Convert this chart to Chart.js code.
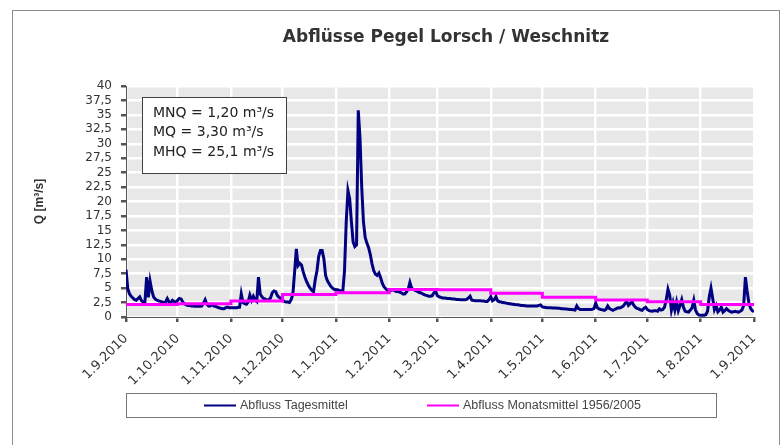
<!DOCTYPE html>
<html>
<head>
<meta charset="utf-8">
<script src="https://cdn.jsdelivr.net/npm/chart.js@4.4.1/dist/chart.umd.min.js"></script>
<style>
  html, body { margin: 0; padding: 0; background: #fff; }
  #wrap { width: 781px; height: 445px; }
</style>
</head>
<body>
<div id="wrap"><canvas id="chart" width="781" height="445"></canvas></div>
<script>
// --- Daten ---
const chartTitle = 'Abflüsse Pegel Lorsch / Weschnitz';
const axisTitle = 'Q [m³/s]';
const seriesNames = ['Abfluss Tagesmittel', 'Abfluss Monatsmittel 1956/2005'];
const keyValues = ['MNQ = 1,20 m³/s', 'MQ = 3,30 m³/s', 'MHQ = 25,1 m³/s'];

// Monatsanfänge (Achsenbeschriftung)
const monthLabels = ['1.9.2010', '1.10.2010', '1.11.2010', '1.12.2010', '1.1.2011', '1.2.2011',
  '1.3.2011', '1.4.2011', '1.5.2011', '1.6.2011', '1.7.2011', '1.8.2011', '1.9.2011'];

// Monatsmittel 1956/2005, Sep .. Aug
const monthlyMean = [2.15, 2.3, 2.75, 3.9, 4.2, 4.75, 4.7, 4.1, 3.4, 2.95, 2.65, 2.15];

// Tagesmittel 1.9.2010 .. 1.9.2011
const dailyQ = [
  // Sep
  8.2, 5.0, 4.0, 3.6, 3.3, 3.0, 2.9, 3.2, 3.5, 2.8,
  2.6, 2.6, 6.9, 3.4, 6.2, 4.6, 3.5, 3.1, 2.9, 2.8,
  2.7, 2.6, 2.5, 2.6, 3.2, 2.6, 2.5, 2.9, 2.7, 2.5,
  // Okt
  2.9, 3.2, 3.1, 2.6, 2.3, 2.1, 2.0, 2.0, 1.9, 1.9,
  1.85, 1.85, 1.85, 1.85, 1.9, 2.4, 3.0, 2.2, 1.9, 1.9,
  2.2, 1.9, 1.85, 1.7, 1.6, 1.5, 1.45, 1.45, 1.6, 1.7,
  1.6,
  // Nov
  1.6, 1.6, 1.6, 1.6, 1.65, 1.7, 4.0, 2.5, 2.3, 2.2,
  2.6, 3.8, 2.9, 3.6, 3.0, 2.7, 6.9, 4.0, 3.5, 3.2,
  3.1, 2.9, 3.0, 3.3, 4.2, 4.5, 4.4, 3.7, 3.4, 3.2,
  // Dez
  2.9, 2.7, 2.6, 2.6, 2.5, 3.0, 4.0, 7.8, 11.8, 8.9,
  9.3, 9.0, 7.8, 6.9, 6.1, 5.5, 5.0, 4.6, 4.4, 6.5,
  8.0, 10.5, 11.5, 11.5, 10.1, 7.2, 6.3, 5.8, 5.3, 5.0,
  4.8,
  // Jan
  4.7, 4.7, 4.6, 4.5, 4.4, 8.0, 16.5, 21.9, 20.5, 16.5,
  13.0, 12.2, 12.5, 35.8, 31.0, 22.5, 16.5, 13.8, 12.8, 12.0,
  10.8, 9.2, 8.0, 7.4, 7.2, 7.6, 6.8, 5.8, 5.2, 4.9,
  4.6,
  // Feb
  4.5, 4.6, 4.7, 4.6, 4.4, 4.4, 4.3, 4.2, 4.0, 4.0,
  4.3, 4.8, 6.0, 5.0, 4.8, 4.6, 4.5, 4.3, 4.2, 4.1,
  3.9, 3.8, 3.7, 3.6, 3.6, 3.7, 4.2, 4.4,
  // Mär
  3.7, 3.5, 3.4, 3.3, 3.3, 3.25, 3.2, 3.2, 3.15, 3.1,
  3.1, 3.05, 3.05, 3.0, 3.0, 3.0, 3.0, 3.05, 3.3, 3.6,
  2.9, 2.85, 2.8, 2.8, 2.8, 2.8, 2.75, 2.75, 2.7, 2.7,
  3.0,
  // Apr
  3.5, 2.8, 3.0, 3.5, 2.8, 2.65, 2.6, 2.5, 2.45, 2.4,
  2.35, 2.3, 2.25, 2.2, 2.15, 2.1, 2.1, 2.05, 2.0, 2.0,
  1.95, 1.9, 1.9, 1.9, 1.9, 1.9, 1.9, 1.9, 2.0, 2.1,
  // Mai
  1.75, 1.7, 1.65, 1.6, 1.6, 1.6, 1.55, 1.55, 1.55, 1.5,
  1.5, 1.45, 1.45, 1.4, 1.4, 1.35, 1.3, 1.3, 1.25, 1.2,
  1.9, 1.45, 1.3, 1.3, 1.3, 1.3, 1.3, 1.3, 1.3, 1.35,
  1.45,
  // Jun
  2.4, 1.6, 1.4, 1.3, 1.25, 1.15, 1.3, 1.9, 1.45, 1.3,
  1.15, 1.3, 1.45, 1.6, 1.55, 1.7, 1.9, 2.3, 2.7, 2.0,
  2.3, 2.7, 2.1, 1.7, 1.5, 1.4, 1.25, 1.15, 1.5, 1.7,
  // Jul
  1.3, 1.1, 1.05, 1.0, 1.1, 1.1, 1.0, 1.4, 1.2, 1.3,
  1.7, 3.0, 4.8, 3.8, 1.2, 2.5, 1.2, 2.6, 1.1, 2.0,
  3.0, 1.7, 1.0, 0.9, 0.85, 1.2, 1.6, 2.9, 1.2, 0.6,
  0.35,
  // Aug + 1.9.2011
  0.3, 0.3, 0.3, 0.4, 1.0, 3.5, 5.0, 3.2, 1.3, 2.0,
  0.9, 1.2, 1.7, 0.85, 1.1, 1.45, 1.15, 0.95, 0.85, 0.9,
  1.0, 0.9, 0.85, 1.0, 1.2, 2.0, 6.9, 4.5, 2.5, 1.5,
  1.1, 0.9
];

// Tage seit 1.9.2010 aus "T.M.JJJJ"
function dayOffset(label) {
  const [d, m, y] = label.split('.').map(Number);
  const [d0, m0, y0] = monthLabels[0].split('.').map(Number);
  return Math.round((Date.UTC(y, m - 1, d) - Date.UTC(y0, m0 - 1, d0)) / 86400000);
}
const monthDays = monthLabels.map(dayOffset);

const dailyPoints = dailyQ.map((v, i) => ({ x: i, y: v }));
// Treppenlinie: Wert gilt ab Monatsanfang bis zum nächsten
const meanPoints = monthlyMean.map((v, i) => ({ x: monthDays[i], y: v }));
meanPoints.push({ x: monthDays[monthDays.length - 1], y: monthlyMean[monthlyMean.length - 1] });

const textColor = '#333';
const axisColor = '#555';

// Hintergrund, Rahmen, grauer Plotbereich
const backgroundPlugin = {
  id: 'background',
  beforeDraw(chart) {
    const ctx = chart.ctx;
    const a = chart.chartArea;
    ctx.save();
    ctx.fillStyle = '#fff';
    ctx.fillRect(0, 0, chart.width, chart.height);
    ctx.strokeStyle = '#8c8c8c';
    ctx.lineWidth = 1;
    ctx.strokeRect(12.5, 10.5, 767, 460);
    ctx.fillStyle = '#e8e8e8';
    ctx.fillRect(a.left, a.top, a.right - a.left, a.bottom - a.top);
    ctx.restore();
  }
};

// Titel, Kennwerte-Kasten und Legende
const overlayPlugin = {
  id: 'overlay',
  afterDraw(chart) {
    const ctx = chart.ctx;
    ctx.save();

    ctx.fillStyle = textColor;
    ctx.font = 'bold 17px "DejaVu Sans"';
    ctx.textAlign = 'center';
    ctx.textBaseline = 'middle';
    ctx.fillText(chartTitle, 446, 38);

    // Kennwerte
    ctx.fillStyle = '#fff';
    ctx.fillRect(142.5, 97.5, 144, 76);
    ctx.strokeStyle = '#404040';
    ctx.lineWidth = 1;
    ctx.strokeRect(142.5, 97.5, 144, 76);
    ctx.fillStyle = '#222';
    ctx.font = '14px "DejaVu Sans"';
    ctx.textAlign = 'left';
    keyValues.forEach((t, i) => ctx.fillText(t, 153, 113 + i * 19.5));

    // Legende
    ctx.strokeStyle = '#777';
    ctx.strokeRect(126.5, 393.5, 590, 24);
    const sampleX = [204, 427];
    ctx.font = '12.5px "Liberation Sans"';
    chart.data.datasets.forEach((ds, i) => {
      ctx.strokeStyle = ds.borderColor;
      ctx.lineWidth = 2;
      ctx.beginPath();
      ctx.moveTo(sampleX[i], 405.5);
      ctx.lineTo(sampleX[i] + 32, 405.5);
      ctx.stroke();
      ctx.fillStyle = '#444';
      ctx.fillText(ds.label, sampleX[i] + 36, 406);
    });
    ctx.restore();
  }
};

new Chart(document.getElementById('chart'), {
  type: 'line',
  data: {
    datasets: [
      {
        label: seriesNames[0],
        data: dailyPoints,
        borderColor: '#000080',
        borderWidth: 3,
        pointRadius: 0,
        tension: 0,
        order: 1
      },
      {
        label: seriesNames[1],
        data: meanPoints,
        borderColor: '#ff00ff',
        borderWidth: 3,
        pointRadius: 0,
        stepped: 'before',
        order: 0
      }
    ]
  },
  options: {
    responsive: false,
    animation: false,
    devicePixelRatio: 1,
    layout: { padding: { top: 86, right: 27, bottom: 0, left: 0 } },
    plugins: {
      legend: { display: false },
      title: { display: false },
      tooltip: { enabled: false }
    },
    scales: {
      x: {
        type: 'linear',
        min: monthDays[0],
        max: monthDays[monthDays.length - 1],
        afterBuildTicks: (scale) => {
          scale.ticks = monthDays.map(v => ({ value: v }));
        },
        afterFit: (scale) => { scale.height = 128; },
        ticks: {
          autoSkip: false,
          maxRotation: 45,
          minRotation: 45,
          padding: 9,
          color: textColor,
          font: { family: 'DejaVu Sans', size: 13 },
          callback: (v) => monthLabels[monthDays.indexOf(v)]
        },
        grid: { color: '#fff', lineWidth: 2.5, tickColor: axisColor, tickLength: 5 },
        border: { color: axisColor, width: 1 }
      },
      y: {
        min: 0,
        max: 40,
        afterFit: (scale) => { scale.width = 126; },
        ticks: {
          stepSize: 2.5,
          autoSkip: false,
          padding: 9,
          color: textColor,
          font: { family: 'DejaVu Sans', size: 12 },
          callback: (v) => String(v).replace('.', ',')
        },
        grid: { color: '#fff', lineWidth: 2.5, tickColor: axisColor, tickLength: 5 },
        border: { color: axisColor, width: 1 },
        title: {
          display: true,
          text: axisTitle,
          color: textColor,
          font: { family: 'Liberation Sans', size: 12, weight: 'bold' },
          padding: { top: 32, bottom: 0 }
        }
      }
    }
  },
  plugins: [backgroundPlugin, overlayPlugin]
});
</script>
</body>
</html>
